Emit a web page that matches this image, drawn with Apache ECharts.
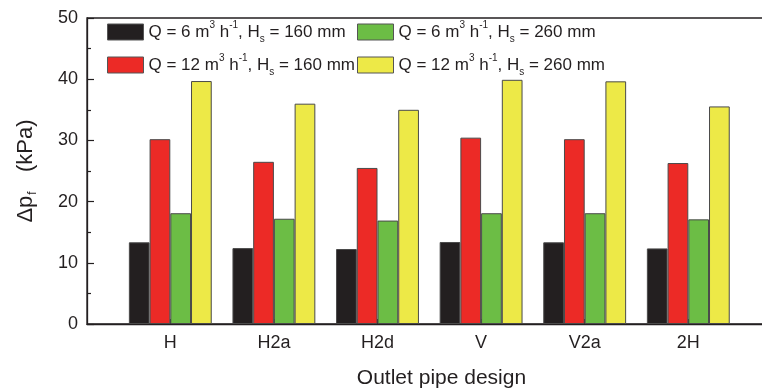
<!DOCTYPE html>
<html>
<head>
<meta charset="utf-8">
<script src="https://cdn.jsdelivr.net/npm/echarts@6/dist/echarts.min.js"></script>
<style>
  html, body { margin: 0; padding: 0; background: #fff; }
  #chart { width: 762px; height: 389px; }
</style>
</head>
<body>
<div id="chart"></div>
<script>
// Outlet pipe designs on the category axis
const categories = ['H', 'H2a', 'H2d', 'V', 'V2a', '2H'];

// Friction pressure drop Δp_f (kPa) for each flow rate / sump height
const q6_h160 = [13.35, 12.4, 12.25, 13.4, 13.35, 12.35];
const q12_h160 = [30.2, 26.5, 25.5, 30.45, 30.2, 26.3];
const q6_h260 = [18.1, 17.2, 16.9, 18.1, 18.1, 17.1];
const q12_h260 = [39.7, 36.0, 35.0, 39.9, 39.65, 35.55];

// Series descriptors: flow rate Q (m3/h) and height Hs (mm)
const seriesDefs = [
  { q: 6, hs: 160, data: q6_h160, color: '#231f20' },
  { q: 12, hs: 160, data: q12_h160, color: '#ec2a26' },
  { q: 6, hs: 260, data: q6_h260, color: '#6cbd45' },
  { q: 12, hs: 260, data: q12_h260, color: '#ede947' }
];

const yTicks = { min: 0, max: 50, interval: 10 };

const FONT = 'Liberation Sans, Arial, sans-serif';
const INK = '#231f20';

function seriesName(d) {
  return 'Q = ' + d.q + ' m3 h-1, Hs = ' + d.hs + ' mm';
}
const richName = {};
seriesDefs.forEach(d => {
  richName[seriesName(d)] =
    '{t|Q = ' + d.q + ' m}{sup|3}{t| h}{sup|-1}{t|, H}{sub|s}{t| = ' + d.hs + ' mm}';
});

const legendRich = {
  t: { fontSize: 17, lineHeight: 24, color: INK, fontFamily: FONT, verticalAlign: 'middle' },
  sup: { fontSize: 10, lineHeight: 13, color: INK, fontFamily: FONT, verticalAlign: 'top' },
  sub: { fontSize: 10, lineHeight: 9, color: INK, fontFamily: FONT, verticalAlign: 'bottom' }
};

function makeLegend(names, left) {
  return {
    orient: 'vertical',
    left: left,
    top: 20,
    padding: 0,
    icon: 'rect',
    itemWidth: 36,
    itemHeight: 16,
    itemGap: 9,
    selectedMode: false,
    data: names,
    formatter: n => richName[n],
    textStyle: { rich: legendRich, fontFamily: FONT },
    itemStyle: { borderColor: '#555', borderWidth: 1 }
  };
}

const chart = echarts.init(document.getElementById('chart'), null, { renderer: 'canvas' });

chart.setOption({
  backgroundColor: '#fff',
  animation: false,
  textStyle: { fontFamily: FONT },
  legend: [
    makeLegend([seriesName(seriesDefs[0]), seriesName(seriesDefs[1])], 107),
    makeLegend([seriesName(seriesDefs[2]), seriesName(seriesDefs[3])], 357)
  ],
  grid: [
    // frame with the value axis
    { left: 87, right: -34, top: 18, bottom: 65, show: true, borderColor: INK, borderWidth: 1.3,
      containLabel: false, outerBoundsMode: 'none' },
    // band area holding the grouped bars
    { left: 118.5, width: 621.6, top: 18, bottom: 65, containLabel: false, outerBoundsMode: 'none' }
  ],
  xAxis: [
    {
      gridIndex: 0, type: 'value', min: 0, max: 1,
      name: 'Outlet pipe design', nameLocation: 'middle', nameGap: 44,
      nameTextStyle: { fontSize: 21, color: INK, fontFamily: FONT },
      axisLine: { show: true, lineStyle: { color: INK, width: 1.3 } },
      axisTick: { show: false }, axisLabel: { show: false }, splitLine: { show: false }
    },
    {
      gridIndex: 1, type: 'category', data: categories,
      axisLine: { show: false },
      axisTick: { show: true, inside: true, alignWithLabel: true, length: 5, lineStyle: { color: INK, width: 1.2 } },
      axisLabel: { fontSize: 18, color: INK, margin: 10, fontFamily: FONT },
      splitLine: { show: false }
    }
  ],
  yAxis: [
    {
      gridIndex: 0, type: 'value', min: yTicks.min, max: yTicks.max, interval: yTicks.interval,
      name: '{t|Δp}{sub|f}{t|   (kPa)}', nameLocation: 'middle', nameGap: 48, nameRotate: 90,
      nameTextStyle: {
        rich: {
          t: { fontSize: 22, lineHeight: 26, color: INK, fontFamily: FONT, verticalAlign: 'middle' },
          sub: { fontSize: 12, lineHeight: 11, color: INK, fontFamily: FONT, verticalAlign: 'bottom', padding: [0, 1, 0, 1] }
        }
      },
      axisLine: { show: true, lineStyle: { color: INK, width: 1.3 } },
      axisTick: { show: true, inside: true, length: 7, lineStyle: { color: INK, width: 1.2 } },
      minorTick: { show: true, splitNumber: 2, length: 4, lineStyle: { color: INK, width: 1.2 } },
      axisLabel: { fontSize: 18, color: INK, margin: 9, fontFamily: FONT },
      splitLine: { show: false }
    },
    {
      gridIndex: 1, type: 'value', min: yTicks.min, max: yTicks.max, interval: yTicks.interval,
      show: false, splitLine: { show: false }
    }
  ],
  series: seriesDefs.map(d => ({
    name: seriesName(d),
    type: 'bar',
    xAxisIndex: 1,
    yAxisIndex: 1,
    data: d.data,
    barGap: '0%',
    barCategoryGap: '20%',
    itemStyle: { color: d.color, borderColor: '#4a4a4a', borderWidth: 1 }
  }))
});
</script>
</body>
</html>
